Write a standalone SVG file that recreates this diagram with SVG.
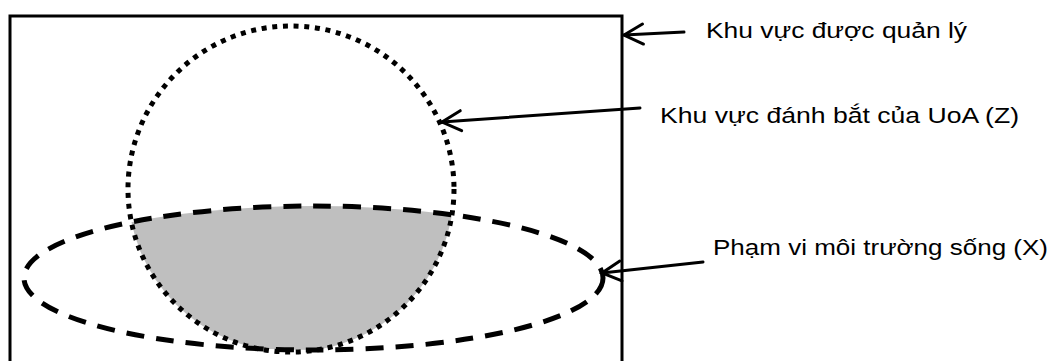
<svg xmlns="http://www.w3.org/2000/svg" width="1056" height="361" viewBox="0 0 1056 361">
  <style>
    .frame { fill: none; stroke: #000; stroke-width: 3; }
    .zone-z { fill: none; stroke: #000; stroke-width: 5; stroke-dasharray: 5 5.7; }
    .zone-x { fill: none; stroke: #000; stroke-width: 5; stroke-dasharray: 18 12; }
    .overlap { fill: #bfbfbf; }
    .pointer { fill: none; stroke: #000; stroke-width: 3; stroke-linecap: round; marker-end: url(#open-arrow); }
    .label { font-family: "Liberation Sans", Arial, sans-serif; font-size: 22px; fill: #000; }
  </style>
  <defs>
    <marker id="open-arrow" markerUnits="userSpaceOnUse" viewBox="-24 -14 28 28" markerWidth="28" markerHeight="28" refX="0" refY="0" orient="auto" overflow="visible">
      <path d="M -19 -10 L 0 0 L -19 10" fill="none" stroke="#000" stroke-width="3" stroke-linecap="round" stroke-linejoin="miter"/>
    </marker>
    <clipPath id="habitat-clip">
      <ellipse cx="313.5" cy="278" rx="289.5" ry="72"/>
    </clipPath>
  </defs>

  <!-- managed area -->
  <g id="managed-area">
    <rect class="frame" x="10" y="16" width="612" height="360"/>
  </g>

  <!-- overlap of fishing area and habitat range -->
  <g id="overlap">
    <circle class="overlap" cx="291" cy="189" r="163" clip-path="url(#habitat-clip)"/>
  </g>

  <!-- UoA fishing area (Z) -->
  <g id="fishing-area">
    <circle class="zone-z" cx="291" cy="189" r="163"/>
  </g>

  <!-- habitat range (X) -->
  <g id="habitat-range">
    <ellipse class="zone-x" cx="313.5" cy="278" rx="289.5" ry="72"/>
  </g>

  <!-- callout arrows -->
  <g id="connectors">
    <line class="pointer" x1="684" y1="32" x2="624" y2="35"/>
    <line class="pointer" x1="640" y1="108" x2="442" y2="122"/>
    <line class="pointer" x1="703" y1="262" x2="602" y2="273"/>
  </g>

  <!-- labels -->
  <g id="label-managed">
    <text class="label" x="706" y="38" textLength="261" lengthAdjust="spacingAndGlyphs">Khu vực được quản lý</text>
  </g>
  <g id="label-fishing">
    <text class="label" x="660" y="123" textLength="359" lengthAdjust="spacingAndGlyphs">Khu vực đánh bắt của UoA (Z)</text>
  </g>
  <g id="label-habitat">
    <text class="label" x="713" y="255" textLength="335" lengthAdjust="spacingAndGlyphs">Phạm vi môi trường sống (X)</text>
  </g>
</svg>
